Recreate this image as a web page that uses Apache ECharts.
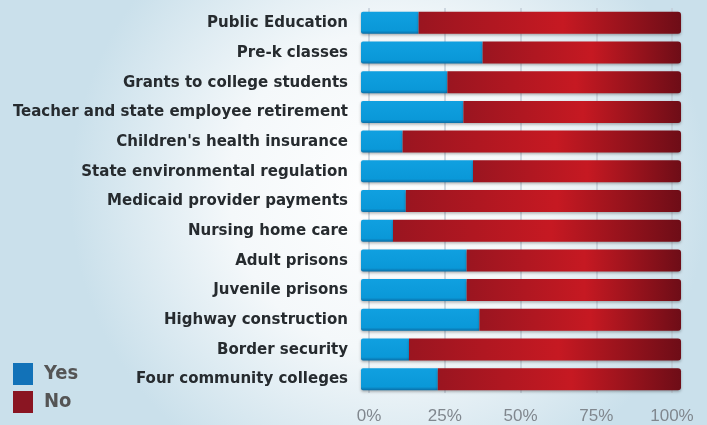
<!DOCTYPE html>
<html><head><meta charset="utf-8">
<script src="https://cdn.jsdelivr.net/npm/echarts@6/dist/echarts.min.js"></script>
<style>html,body{margin:0;padding:0;}#c{width:707px;height:425px;}</style>
</head><body><div id="c"></div>
<script>
const categories = ["Public Education","Pre-k classes","Grants to college students","Teacher and state employee retirement","Children's health insurance","State environmental regulation","Medicaid provider payments","Nursing home care","Adult prisons","Juvenile prisons","Highway construction","Border security","Four community colleges"];
const yesValues = [18,38,27,32,13,35,14,10,33,33,37,15,24];
const noValues = yesValues.map(v => 100 - v);
const tickLabels = ["0%","25%","50%","75%","100%"];

const chart = echarts.init(document.getElementById('c'));
const redGrad = new echarts.graphic.LinearGradient(0,0,1,0,[
  {offset:0,color:'#9a1520'},{offset:0.55,color:'#c61922'},{offset:1,color:'#6e0d17'}]);
const blueGrad = new echarts.graphic.LinearGradient(0,0,0,1,[
  {offset:0,color:'#10a0e0'},{offset:0.85,color:'#0a98d8'},{offset:1,color:'#0a6fa8'}]);
chart.setOption({
  backgroundColor: {type:'radial', x:0.55, y:0.45, r:0.75, colorStops:[{offset:0,color:'#ffffff'},{offset:0.5,color:'#f4f8fa'},{offset:1,color:'#cae0eb'}]},
  animation:false,
  legend:{orient:'vertical', left:8, top:358, itemWidth:20, itemHeight:22, itemGap:6, icon:'rect',
    textStyle:{color:'#555', fontSize:20, fontWeight:'bold', fontFamily:'DejaVu Sans Condensed, sans-serif', padding:[0,0,0,6]},
    data:[{name:'Yes', itemStyle:{color:'#1272b8'}},{name:'No', itemStyle:{color:'#8a1522'}}]},
  grid:[
    {left:361, right:26, top:8, bottom:31},
    {left:369, right:35, top:8, bottom:31}
  ],
  xAxis:[
    {type:'value', gridIndex:0, min:0, max:100, show:false},
    {type:'value', gridIndex:1, min:0, max:100, interval:25,
      axisLine:{show:false}, axisTick:{show:false},
      splitLine:{lineStyle:{color:'#c3ced8', width:1.5}},
      axisLabel:{margin:15, color:'#80878e', fontSize:17, fontFamily:'Liberation Sans, Arial, sans-serif',
        formatter:(v)=>tickLabels[Math.round(v/25)]}}
  ],
  yAxis:[
    {type:'category', gridIndex:0, data:categories, inverse:true,
      axisLine:{show:false}, axisTick:{show:false},
      axisLabel:{margin:13, color:'#262b2f', fontSize:16.7, fontWeight:'bold', fontFamily:'DejaVu Sans Condensed, sans-serif'}},
    {type:'category', gridIndex:1, data:categories, inverse:true, show:false}
  ],
  series:[
    {name:'Yes', type:'bar', stack:'a', xAxisIndex:0, yAxisIndex:0, data:yesValues, barWidth:22,
      itemStyle:{color:blueGrad, borderRadius:[2,0,0,2], shadowColor:'rgba(0,0,0,0.3)', shadowBlur:3, shadowOffsetY:1.5}},
    {name:'No', type:'bar', stack:'a', xAxisIndex:0, yAxisIndex:0, data:noValues, barWidth:22,
      itemStyle:{color:redGrad, borderRadius:[0,3,3,0], shadowColor:'rgba(0,0,0,0.3)', shadowBlur:3, shadowOffsetY:1.5}}
  ]
});
</script></body></html>
